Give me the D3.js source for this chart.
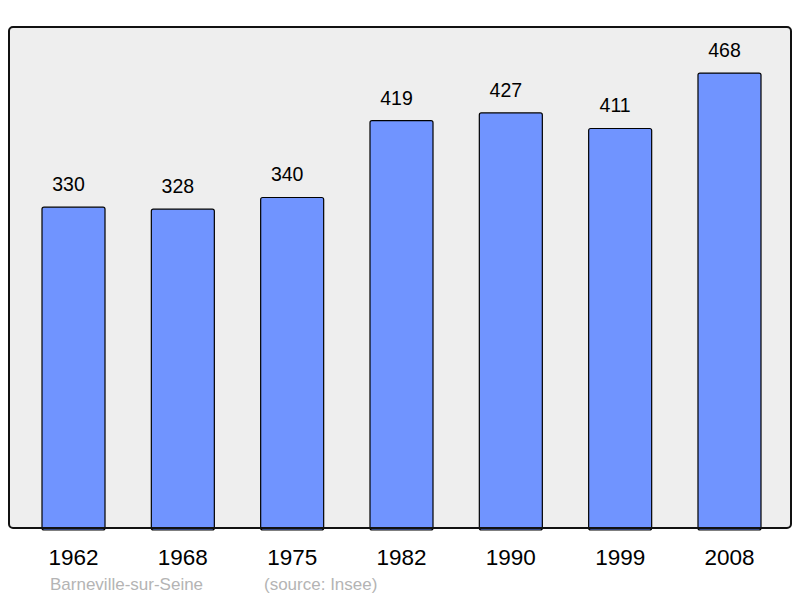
<!DOCTYPE html>
<html>
<head>
<meta charset="utf-8">
<script src="https://cdn.jsdelivr.net/npm/d3@7"></script>
<style>
html,body{margin:0;padding:0;background:#fff;}
svg{display:block;font-family:"Liberation Sans",Arial,sans-serif;}
</style>
</head>
<body>
<svg id="chart" width="800" height="598"></svg>
<script>
const years = ["1962","1968","1975","1982","1990","1999","2008"];
const population = [330,328,340,419,427,411,468];
const placeName = "Barneville-sur-Seine";
const sourceText = "(source: Insee)";

const svg = d3.select("#chart");
const frame = {x0: 9, x1: 791, y0: 27, y1: 528};

svg.append("rect")
  .attr("x", frame.x0).attr("y", frame.y0)
  .attr("width", frame.x1 - frame.x0).attr("height", frame.y1 - frame.y0)
  .attr("rx", 4).attr("ry", 4)
  .attr("fill", "#eeeeee");

const x = d3.scaleBand().domain(years).range([42, 761]).paddingInner(0.4237).paddingOuter(0);
const y = d3.scaleLinear().domain([0, 515.4]).range([frame.y1, frame.y0]);

svg.append("g").selectAll("rect").data(years).join("rect")
  .attr("x", d => x(d))
  .attr("y", (d,i) => y(population[i]))
  .attr("width", x.bandwidth())
  .attr("height", (d,i) => frame.y1 - y(population[i]) + 2)
  .attr("rx", 2).attr("ry", 2)
  .attr("fill", "#7094ff")
  .attr("stroke", "#000").attr("stroke-width", 1.2);

svg.append("g").selectAll("text").data(years).join("text")
  .attr("x", d => x(d) + x.bandwidth()/2 - 5)
  .attr("y", (d,i) => y(population[i]) - 16)
  .attr("text-anchor", "middle")
  .attr("font-size", 19.5)
  .attr("fill", "#000")
  .text((d,i) => population[i]);

// frame border on top
svg.append("rect")
  .attr("x", frame.x0).attr("y", frame.y0)
  .attr("width", frame.x1 - frame.x0).attr("height", frame.y1 - frame.y0)
  .attr("rx", 4).attr("ry", 4)
  .attr("fill", "none").attr("stroke", "#111").attr("stroke-width", 2);

const xAxis = d3.axisBottom(x).tickSize(0).tickPadding(0);
const gx = svg.append("g").attr("transform", `translate(0,${frame.y1})`).call(xAxis);
gx.select(".domain").remove();
gx.selectAll("text")
  .attr("dy", null)
  .attr("y", 37)
  .attr("font-size", 22.5)
  .attr("font-family", "Liberation Sans, Arial, sans-serif")
  .attr("fill", "#000");

svg.append("text").attr("x", 50).attr("y", 590)
  .attr("font-size", 17).attr("fill", "#b4b4b4").text(placeName);
svg.append("text").attr("x", 264).attr("y", 590)
  .attr("font-size", 17).attr("fill", "#b4b4b4").text(sourceText);
</script>
</body>
</html>
